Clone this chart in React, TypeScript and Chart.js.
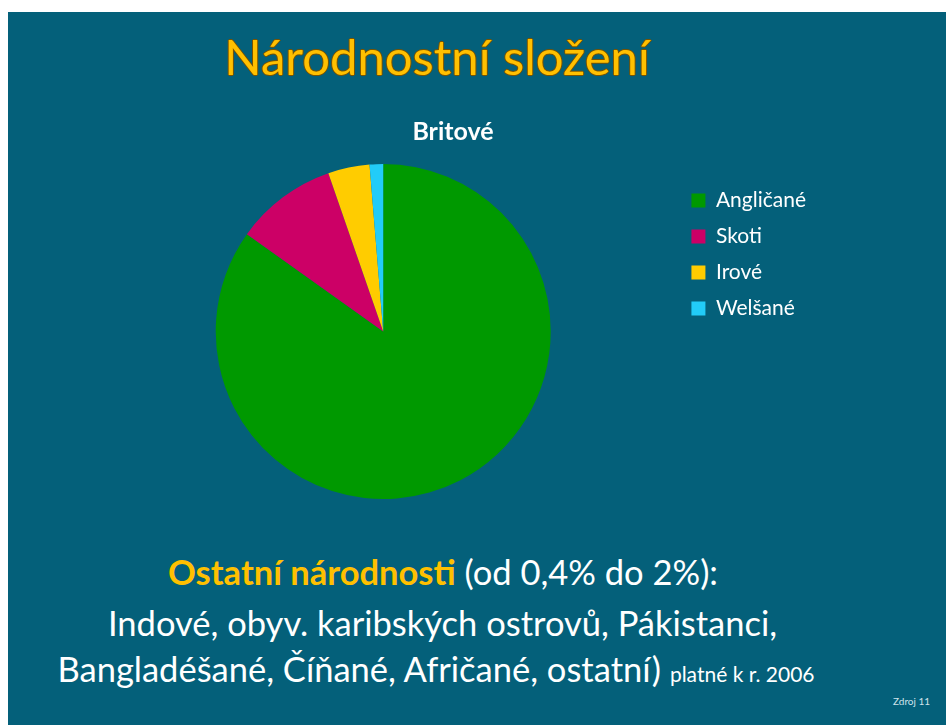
import React, { useEffect, useRef } from "react";
import { Chart, registerables } from "chart.js";

Chart.register(...registerables);

const categories = ["Angličané", "Skoti", "Irové", "Welšané"];
const shares = [84.7, 9.8, 4.0, 1.3];
const sliceColors = ["#009900", "#CC0066", "#FFCC00", "#22CCF8"];
const chartTitle = "Britové";
const slideTitle = "Národnostní složení";
const noteBold = "Ostatní národnosti";
const noteRest = " (od 0,4% do 2%):";
const noteLine2 = "Indové, obyv. karibských ostrovů, Pákistanci,";
const noteLine3 = "Bangladéšané, Číňané, Afričané, ostatní)";
const noteSmall = "platné k r. 2006";
const sourceLabel = "Zdroj 11";

const FONT = "Lato, 'Open Sans', sans-serif";
const BG = "#04607A";

export default function App() {
  const canvasRef = useRef<HTMLCanvasElement | null>(null);

  useEffect(() => {
    if (!canvasRef.current) return;
    const chart = new Chart(canvasRef.current, {
      type: "pie",
      data: {
        labels: categories,
        datasets: [
          {
            data: shares,
            backgroundColor: sliceColors,
            borderWidth: 0,
          },
        ],
      },
      options: {
        animation: false,
        responsive: true,
        maintainAspectRatio: false,
        layout: { padding: { left: 82, right: 130, top: 0, bottom: 21 } },
        plugins: {
          title: {
            display: true,
            text: chartTitle,
            color: "#FFFFFF",
            font: { family: FONT, size: 25, weight: "bold", lineHeight: 1.2 },
            padding: { top: 17, bottom: 17 },
          },
          legend: {
            position: "right",
            align: "start",
            fullSize: false,
            title: {
              display: true,
              text: " ",
              font: { size: 11, lineHeight: 1 },
              padding: 0,
            },
            labels: {
              color: "#FFFFFF",
              font: { family: FONT, size: 21 },
              boxWidth: 14,
              boxHeight: 14,
              padding: 15,
            },
          },
          tooltip: { enabled: false },
        },
      },
    });
    return () => chart.destroy();
  }, []);

  const white = "#FFFFFF";
  const gold = "#FFC000";

  const line = (top: number, width: number): React.CSSProperties => ({
    position: "absolute",
    left: 0,
    width,
    top,
    textAlign: "center",
    fontSize: 34.5,
    lineHeight: 1,
    color: white,
    whiteSpace: "nowrap",
  });

  return (
    <div
      style={{
        position: "absolute",
        left: 8,
        top: 12,
        width: 938,
        height: 713,
        background: BG,
        fontFamily: FONT,
        overflow: "hidden",
      }}
    >
      <div
        style={{
          position: "absolute",
          left: 0,
          width: 858,
          top: 19.5,
          textAlign: "center",
          fontSize: 49,
          lineHeight: 1,
          color: gold,
          textShadow:
            "1px 0 0 #7A5300, -1px 0 0 #7A5300, 0 1px 0 #7A5300, 0 -1px 0 #7A5300",
          whiteSpace: "nowrap",
        }}
      >
        {slideTitle}
      </div>
      <div
        style={{
          position: "absolute",
          left: 0,
          top: 88,
          width: 938,
          height: 420,
        }}
      >
        <canvas ref={canvasRef} />
      </div>
      <div style={line(543.4, 870)}>
        <span style={{ color: gold, fontWeight: "bold" }}>{noteBold}</span>
        {noteRest}
      </div>
      <div style={line(594.4, 869)}>{noteLine2}</div>
      <div style={line(640.4, 856)}>
        {noteLine3} <span style={{ fontSize: 21 }}>{noteSmall}</span>
      </div>
      <div
        style={{
          position: "absolute",
          left: 885,
          top: 684,
          fontSize: 10,
          lineHeight: 1,
          color: "#CFE3EA",
          whiteSpace: "nowrap",
        }}
      >
        {sourceLabel}
      </div>
    </div>
  );
}
